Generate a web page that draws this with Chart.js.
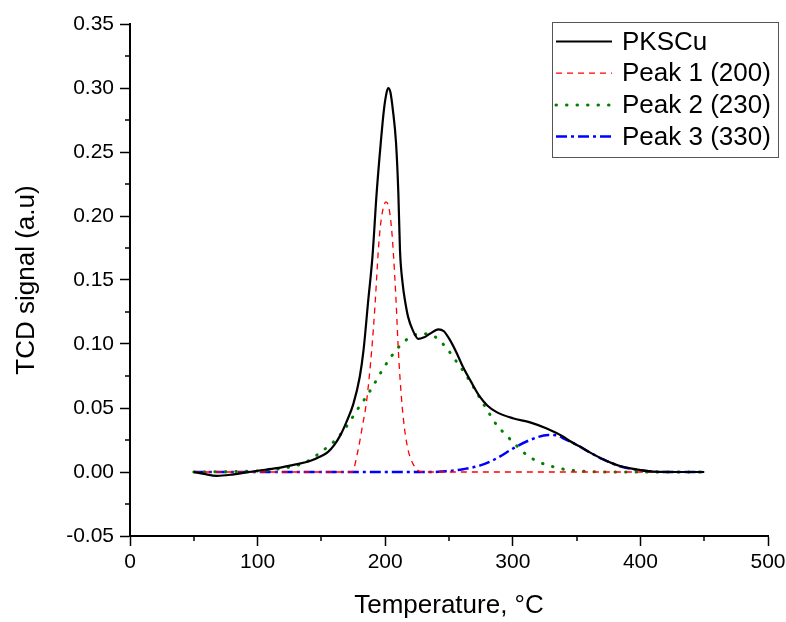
<!DOCTYPE html>
<html>
<head>
<meta charset="utf-8">
<script src="https://cdn.jsdelivr.net/npm/chart.js@4/dist/chart.umd.min.js"></script>
<style>
  html, body { margin: 0; padding: 0; background: #fff; }
  #wrap { width: 786px; height: 622px; position: relative; }
</style>
</head>
<body>
<div id="wrap"><canvas id="c" width="786" height="622"></canvas></div>
<script>
// ---- Data ----
const seriesNames = ["PKSCu", "Peak 1 (200)", "Peak 2 (230)", "Peak 3 (330)"];

const pkscuT = [50, 58, 68, 80, 90, 100, 115, 130, 141, 150, 155, 160, 165, 170, 175, 180, 183, 186.7, 190, 193.3, 196.5, 199, 201, 202.4, 204, 206, 208.5, 210.3, 211.6, 213.7, 215.5, 218, 221.5, 226, 230, 235, 241.6, 246, 250.8, 256, 261, 267, 274, 280, 287, 300, 313.5, 326.6, 339.6, 345, 352.7, 360, 371, 384, 397, 410, 430, 450];
const pkscuV = [0, -0.0015, -0.003, -0.002, -0.0005, 0.001, 0.003, 0.006, 0.0086, 0.0125, 0.0155, 0.021, 0.029, 0.040, 0.053, 0.074, 0.095, 0.134, 0.168, 0.218, 0.257, 0.283, 0.296, 0.300, 0.297, 0.283, 0.257, 0.218, 0.173, 0.147, 0.134, 0.121, 0.111, 0.104, 0.105, 0.108, 0.1115, 0.110, 0.103, 0.093, 0.082, 0.071, 0.059, 0.052, 0.047, 0.042, 0.0388, 0.034, 0.0276, 0.024, 0.0198, 0.0155, 0.0098, 0.0047, 0.002, 0.0003, 0, 0];

const peak1T = [50, 174, 178.7, 182, 185.5, 189.4, 192, 194.6, 196, 198, 200.6, 203, 205, 206.4, 208.5, 210.3, 212.9, 215, 218, 222, 228.6, 450];
const peak1V = [0, 0, 0.017, 0.035, 0.056, 0.095, 0.13, 0.173, 0.19, 0.204, 0.211, 0.206, 0.19, 0.171, 0.134, 0.095, 0.056, 0.035, 0.017, 0.006, 0, 0];

const peak2T = [50, 90, 110, 120, 130.6, 141, 150, 159, 166.7, 173, 179.7, 186, 192, 198, 204.3, 211, 220, 226, 232, 236, 240.8, 249.5, 256, 262.5, 269, 274.8, 280.8, 287.4, 294.7, 302.5, 310.9, 321, 332, 343.5, 360, 380, 450];
const peak2V = [0, 0.0005, 0.0015, 0.003, 0.005, 0.0094, 0.0159, 0.023, 0.0315, 0.0406, 0.051, 0.060, 0.0698, 0.080, 0.0896, 0.098, 0.1057, 0.1078, 0.108, 0.107, 0.1044, 0.095, 0.086, 0.077, 0.0667, 0.0568, 0.047, 0.0367, 0.0289, 0.021, 0.0133, 0.0076, 0.004, 0.0016, 0.0004, 0, 0];

const peak3T = [50, 235, 248, 261, 274, 287.4, 300.4, 313.5, 327.8, 335, 339.6, 352.7, 360, 371, 384, 397, 410, 420, 450];
const peak3V = [0, 0, 0.0005, 0.0022, 0.005, 0.0107, 0.0185, 0.025, 0.0289, 0.0285, 0.0263, 0.0198, 0.0155, 0.0098, 0.0045, 0.0018, 0.0003, 0, 0];

const xTicks = [0, 100, 200, 300, 400, 500];
const yTicks = [-0.05, 0.00, 0.05, 0.10, 0.15, 0.20, 0.25, 0.30, 0.35];

// ---- Build chart ----
function pts(t, v) { return t.map((x, i) => ({ x: x, y: v[i] })); }

const FONT = "'Liberation Sans', Arial, sans-serif";

const minorTicks = {
  id: 'minorTicks',
  afterDraw(chart) {
    const ctx = chart.ctx, xs = chart.scales.x, ys = chart.scales.y;
    const a = chart.chartArea;
    ctx.save();
    ctx.strokeStyle = '#000';
    ctx.lineWidth = 1.5;
    for (let i = 0; i < xTicks.length - 1; i++) {
      const px = Math.round(xs.getPixelForValue((xTicks[i] + xTicks[i + 1]) / 2));
      ctx.beginPath(); ctx.moveTo(px, a.bottom); ctx.lineTo(px, a.bottom + 5); ctx.stroke();
    }
    for (let i = 0; i < yTicks.length - 1; i++) {
      const py = Math.round(ys.getPixelForValue((yTicks[i] + yTicks[i + 1]) / 2));
      ctx.beginPath(); ctx.moveTo(a.left - 5, py); ctx.lineTo(a.left, py); ctx.stroke();
    }
    ctx.restore();
  }
};

const boxLegend = {
  id: 'boxLegend',
  afterDraw(chart) {
    const ctx = chart.ctx;
    const bx = 552, by = 22, bw = 226, bh = 135;
    ctx.save();
    ctx.fillStyle = '#fff';
    ctx.fillRect(bx, by, bw, bh);
    ctx.strokeStyle = '#555';
    ctx.lineWidth = 1;
    ctx.strokeRect(bx + 0.5, by + 0.5, bw, bh);
    chart.data.datasets.forEach((ds, i) => {
      const cy = 41.5 + i * 31.7;
      ctx.strokeStyle = ds.borderColor;
      ctx.lineWidth = ds.borderWidth;
      ctx.lineCap = ds.borderCapStyle || 'butt';
      ctx.setLineDash(ds.borderDash || []);
      ctx.beginPath(); ctx.moveTo(556, cy); ctx.lineTo(612, cy); ctx.stroke();
      ctx.setLineDash([]);
      ctx.fillStyle = '#000';
      ctx.font = '26px ' + FONT;
      ctx.textBaseline = 'middle';
      ctx.textAlign = 'left';
      ctx.fillText(ds.label, 622, cy + 1);
    });
    ctx.restore();
  }
};

new Chart(document.getElementById('c'), {
  type: 'line',
  data: {
    datasets: [
      { label: seriesNames[0], data: pts(pkscuT, pkscuV), borderColor: '#000000', borderWidth: 2.2, cubicInterpolationMode: 'monotone' },
      { label: seriesNames[1], data: pts(peak1T, peak1V), borderColor: '#ff0000', borderWidth: 1.3, borderDash: [6, 5], cubicInterpolationMode: 'monotone' },
      { label: seriesNames[2], data: pts(peak2T, peak2V), borderColor: '#008000', borderWidth: 3, borderDash: [0.5, 10], borderCapStyle: 'round', cubicInterpolationMode: 'monotone' },
      { label: seriesNames[3], data: pts(peak3T, peak3V), borderColor: '#0000ff', borderWidth: 2.5, borderDash: [11, 4, 3, 4], cubicInterpolationMode: 'monotone' }
    ]
  },
  options: {
    responsive: false,
    animation: false,
    events: [],
    elements: { point: { radius: 0 } },
    layout: { padding: { left: 0, right: 18, top: 24, bottom: 0 } },
    plugins: { legend: { display: false }, tooltip: { enabled: false } },
    scales: {
      x: {
        type: 'linear',
        min: 0, max: 500,
        afterFit(s) { s.height = 86; s.paddingLeft = 0; s.paddingRight = 0; },
        afterBuildTicks(s) { s.ticks = xTicks.map(v => ({ value: v })); },
        ticks: { color: '#000', font: { family: FONT, size: 21 }, padding: 4, maxRotation: 0, callback: v => String(v) },
        grid: { drawOnChartArea: false, drawTicks: true, tickLength: 10, color: '#000', tickWidth: 1.5 },
        border: { display: true, color: '#000', width: 2 },
        title: { display: true, text: 'Temperature, °C', color: '#000', font: { family: FONT, size: 26, lineHeight: 1.2 }, padding: { top: 0, bottom: 1 } }
      },
      y: {
        type: 'linear',
        min: -0.05, max: 0.35,
        afterFit(s) { s.width = 130; s.paddingTop = 0; s.paddingBottom = 0; },
        afterBuildTicks(s) { s.ticks = yTicks.map(v => ({ value: v })); },
        ticks: { color: '#000', font: { family: FONT, size: 21 }, padding: 6, callback: v => v.toFixed(2) },
        grid: { drawOnChartArea: false, drawTicks: true, tickLength: 10, color: '#000', tickWidth: 1.5 },
        border: { display: true, color: '#000', width: 2 },
        title: { display: true, text: 'TCD signal (a.u)', color: '#000', font: { family: FONT, size: 26, lineHeight: 1.2 }, padding: { top: 11, bottom: 0 } }
      }
    }
  },
  plugins: [minorTicks, boxLegend]
});
</script>
</body>
</html>
